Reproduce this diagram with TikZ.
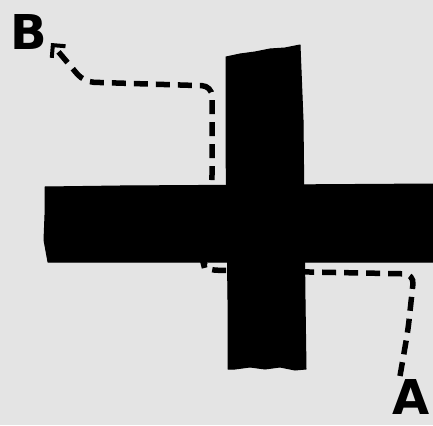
\documentclass[tikz,border=0pt]{standalone}
\usepackage{fontspec}
\setmainfont{DejaVu Sans}
\usetikzlibrary{arrows.meta}
\definecolor{bg}{HTML}{E4E4E4}
\tikzset{
  lbl/.style={font=\fontsize{48}{50}\selectfont\bfseries, inner sep=0pt, text=black},
  route/.style={draw=black, line width=5.5pt, dash pattern=on 14pt off 8pt, rounded corners=10pt},
  bar/.style={fill=black, draw=black, line width=1pt, line join=round}
}
\begin{document}
\begin{tikzpicture}[x=1pt,y=-1pt]
\fill[bg] (0,0) rectangle (433,425);
\useasboundingbox (0,0) rectangle (433,425);
\node[lbl] (B) at (29,32) {B};
\node[lbl] (A) at (411,397) {A};
\coordinate (as) at (400,376);
\coordinate (bt) at (51,43);
\draw[route, -{Straight Barb[length=9pt,width=18pt,line width=4pt]}]
  (as) -- (408,330) -- (414,274) -- (205,270) -- (203,262)
  -- (212,185) -- (212,86) -- (84,82) -- (bt);
% horizontal bar
\path[bar] (45,187) -- (120,186) -- (433,184) -- (433,262) -- (300,262) -- (48,262)
  -- (44,240) -- (45,215) -- cycle;
% vertical bar
\path[bar] (226,57) -- (240,54) -- (255,52) -- (270,49) -- (285,48) -- (300,45)
  -- (303,120) -- (305,300) -- (306,369) -- (295,370) -- (280,367) -- (265,369)
  -- (250,367) -- (235,369) -- (228,369) -- (228,300) -- (226,150) -- cycle;
\end{tikzpicture}
\end{document}
